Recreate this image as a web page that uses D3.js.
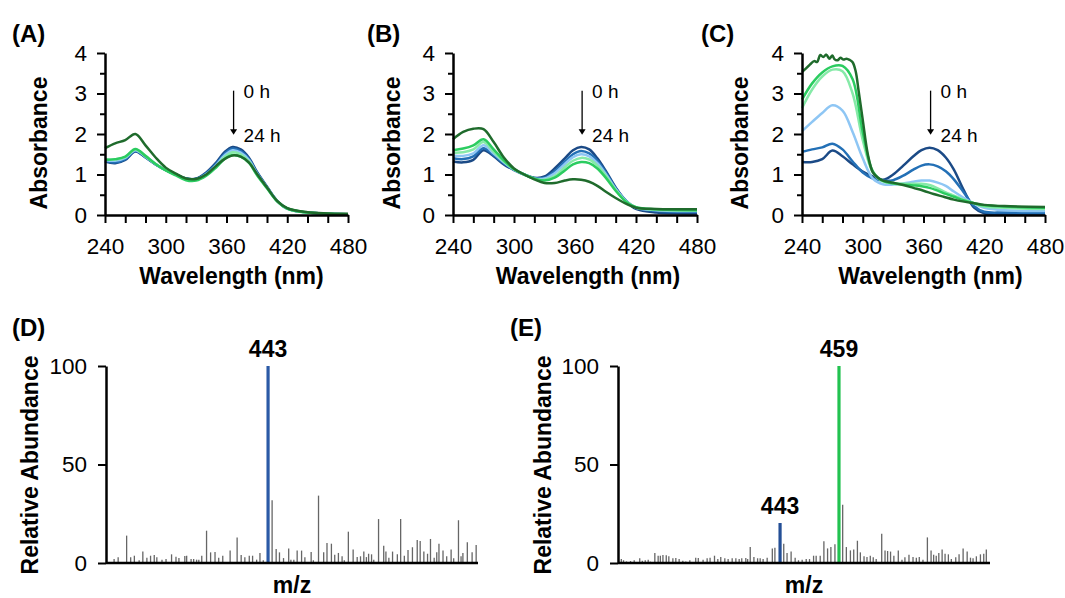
<!DOCTYPE html>
<html>
<head>
<meta charset="utf-8">
<script src="https://cdn.jsdelivr.net/npm/d3@7"></script>
<style>
  body { margin: 0; background: white; }
  text { font-family: "Liberation Sans", Arial, sans-serif; }
</style>
</head>
<body>
<script>
// wavelength grid (nm) shared by the UV-vis traces
const wl = [240,250,260,270,280,290,300,310,320,330,340,350,358,366,374,382,390,400,410,420,440,480];

// panel A, 0 h -> 24 h
const a0 = [1.32,1.28,1.36,1.57,1.42,1.25,1.11,1.00,0.90,0.90,1.05,1.30,1.55,1.68,1.62,1.42,1.07,0.70,0.35,0.16,0.06,0.02];
const a1 = [1.34,1.30,1.38,1.58,1.43,1.25,1.11,1.00,0.90,0.89,1.03,1.27,1.51,1.64,1.58,1.39,1.05,0.69,0.35,0.16,0.06,0.02];
const a2 = [1.36,1.34,1.41,1.60,1.44,1.26,1.11,1.00,0.89,0.88,1.01,1.24,1.47,1.60,1.54,1.36,1.03,0.68,0.35,0.16,0.06,0.02];
const a3 = [1.38,1.37,1.43,1.62,1.45,1.26,1.11,0.99,0.88,0.87,0.99,1.21,1.43,1.55,1.50,1.33,1.01,0.67,0.34,0.16,0.06,0.02];
const a4 = [1.36,1.38,1.44,1.63,1.46,1.26,1.10,0.98,0.86,0.85,0.97,1.18,1.38,1.48,1.44,1.29,0.99,0.66,0.34,0.16,0.06,0.02];
const a5 = [1.65,1.77,1.85,2.00,1.72,1.42,1.17,1.02,0.90,0.89,1.00,1.22,1.38,1.47,1.44,1.30,1.02,0.68,0.35,0.17,0.07,0.03];

// panel B
const b0 = [1.32,1.30,1.36,1.60,1.45,1.25,1.11,1.00,0.92,0.95,1.15,1.40,1.60,1.68,1.62,1.40,1.10,0.68,0.35,0.15,0.06,0.04];
const b1 = [1.40,1.38,1.45,1.65,1.48,1.28,1.12,1.00,0.91,0.92,1.08,1.32,1.50,1.58,1.52,1.34,1.06,0.66,0.36,0.18,0.10,0.08];
const b2 = [1.47,1.46,1.52,1.72,1.52,1.30,1.12,1.00,0.90,0.90,1.03,1.26,1.43,1.50,1.45,1.28,1.02,0.64,0.35,0.18,0.12,0.10];
const b3 = [1.54,1.55,1.62,1.80,1.56,1.32,1.13,1.00,0.89,0.87,0.96,1.18,1.34,1.41,1.37,1.22,0.98,0.62,0.34,0.19,0.13,0.11];
const b4 = [1.60,1.64,1.72,1.87,1.62,1.35,1.13,1.00,0.90,0.85,0.92,1.10,1.25,1.31,1.28,1.15,0.93,0.60,0.33,0.19,0.14,0.12];
const b5 = [1.87,2.05,2.13,2.12,1.80,1.42,1.15,1.00,0.88,0.79,0.79,0.85,0.88,0.87,0.82,0.72,0.58,0.42,0.28,0.18,0.15,0.14];

// panel C
const c0 = [1.31,1.31,1.38,1.59,1.45,1.25,1.07,0.95,0.87,1.00,1.22,1.45,1.60,1.66,1.60,1.42,1.12,0.60,0.18,0.04,0.02,0.02];
const c1 = [1.56,1.62,1.67,1.76,1.62,1.32,1.05,0.90,0.85,0.86,0.97,1.12,1.22,1.25,1.20,1.08,0.88,0.55,0.22,0.08,0.06,0.05];
const c2 = [2.07,2.30,2.52,2.71,2.58,2.05,1.40,0.90,0.76,0.75,0.78,0.82,0.85,0.85,0.80,0.72,0.58,0.42,0.28,0.18,0.12,0.10];
const c3 = [2.64,3.10,3.42,3.59,3.55,3.00,1.85,1.05,0.83,0.79,0.77,0.77,0.77,0.74,0.66,0.56,0.48,0.38,0.29,0.21,0.18,0.15];
const c4 = [2.85,3.25,3.52,3.67,3.68,3.35,2.05,1.08,0.84,0.78,0.75,0.73,0.71,0.67,0.60,0.52,0.45,0.36,0.29,0.24,0.21,0.18];
// the 24 h trace in C is saturated and noisy, read on a finer grid
const c5wl = [240,244,248,252,255,258,261,264,267,270,272,275,278,281,284,287,290,293,296,300,305,310,315,320,330,340,350,360,370,380,390,400,410,420,440,480];
const c5 = [3.53,3.62,3.72,3.80,3.78,3.95,3.90,3.96,3.86,3.94,3.85,3.82,3.88,3.84,3.86,3.83,3.77,3.55,3.05,2.35,1.50,1.05,0.92,0.85,0.80,0.74,0.67,0.60,0.52,0.45,0.38,0.33,0.29,0.25,0.22,0.20];

const timeColors = ['#1b4a86','#2370b6','#8ec6f4','#86eaa8','#2bcc60','#1f6b2c'];

// mass spectra: m/z and relative abundance of minor peaks
const dMz = [401.2,402.3,404.6,405.7,406.7,408.0,409.0,410.1,411.1,412.1,412.8,414.2,415.3,416.8,418.0,418.8,420.4,420.9,422.1,422.8,423.6,424.2,425.0,426.3,427.4,428.6,429.6,430.7,432.7,434.6,435.7,436.7,437.9,438.8,439.9,440.8,441.7,
  444.1,445.2,446.1,447.2,448.6,449.2,450.0,450.9,452.1,453.0,454.7,455.3,456.7,458.1,459.0,460.2,461.1,462.1,463.1,463.7,464.8,466.1,467.2,468.1,469.0,469.7,470.3,471.1,471.7,473.0,474.4,475.0,475.8,476.8,478.1,479.0,480.0,481.0,482.2,483.5,484.3,485.3,486.3,487.1,488.1,488.8,489.4,490.5,491.5,492.7,493.4,494.7,495.4,495.9,497.1,498.4,499.5];
const dAb = [2.0,2.9,13.9,2.9,3.7,1.4,5.8,2.7,3.7,4.1,2.9,1.7,2.0,4.4,3.2,2.5,3.6,3.7,2.0,2.0,1.7,1.7,3.7,16.4,5.4,5.6,2.7,3.7,6.4,13.0,4.1,2.9,3.7,3.7,1.7,5.1,1.4,
  31.8,7.1,5.4,2.5,7.3,1.7,1.7,6.3,6.3,2.9,5.6,1.4,34.2,5.4,10.2,9.8,4.2,5.1,3.4,1.4,15.9,6.8,3.0,3.4,5.9,3.0,4.7,4.4,1.7,22.3,8.8,5.8,2.7,5.8,4.4,22.3,3.7,6.6,8.0,11.7,11.2,5.8,4.7,12.2,2.7,5.4,9.8,6.4,3.4,6.8,2.4,21.7,3.4,5.1,10.5,5.4,9.1];
const eMz = [399.9,400.5,401.3,402.4,403.4,404.9,405.6,406.4,407.2,407.8,409.0,409.9,410.5,411.2,412.1,412.8,413.9,414.7,415.6,416.6,417.4,418.5,420.1,420.8,422.1,423.2,424.0,425.2,426.1,426.9,428.0,428.9,430.0,431.0,431.9,432.6,433.7,434.2,434.9,435.9,436.9,437.6,438.4,439.5,440.9,441.6,
  444.0,444.9,446.0,447.1,448.0,449.0,450.1,451.0,452.1,452.8,453.9,454.9,455.9,456.8,457.9,
  460.0,461.0,462.1,463.0,464.0,464.8,465.8,466.6,467.5,468.3,469.1,470.6,471.5,472.2,473.0,473.9,475.1,476.1,476.9,478.0,479.1,480.0,480.8,481.8,483.0,484.0,484.7,485.4,486.1,487.0,487.8,488.7,489.5,490.7,491.6,492.7,493.8,494.7,495.4,496.3,497.4,498.3,499.0];
const eAb = [2.0,1.4,0.8,1.0,1.4,2.4,1.2,1.4,1.7,0.7,5.1,3.7,3.7,4.1,3.9,3.4,2.4,2.5,2.0,1.2,0.8,1.4,2.7,2.5,1.7,2.4,2.7,3.7,2.0,3.0,2.4,2.0,2.4,2.4,2.0,2.4,2.5,2.0,8.1,3.0,2.4,2.4,2.0,2.7,7.4,7.8,
  9.8,5.1,5.8,2.7,1.4,1.7,2.0,2.0,3.7,3.7,3.7,11.0,7.4,8.1,9.5,
  29.6,8.1,6.4,6.8,11.3,5.4,3.4,3.0,3.7,2.9,2.0,14.9,6.4,6.1,5.8,3.7,6.4,1.7,2.9,4.2,3.0,2.7,3.0,1.7,13.0,6.4,4.2,3.7,5.1,6.8,4.7,4.4,2.0,2.9,4.4,7.4,5.9,2.7,2.4,3.4,4.4,4.7,6.8];
// labelled major peaks
const dMajor = [{mz: 443, ab: 100, color: '#2b5aa6'}];
const eMajor = [{mz: 443, ab: 20.3, color: '#244f96'}, {mz: 459, ab: 100, color: '#22c250'}];

const width = 1065, height = 598;
const svg = d3.select('body').append('svg')
  .attr('width', width)
  .attr('height', height);
svg.append('rect').attr('width', width).attr('height', height).attr('fill', 'white');

function styleAxis(g) {
  g.select('.domain').attr('stroke', '#000').attr('stroke-width', 2.5);
  g.selectAll('.tick line').attr('stroke', '#000').attr('stroke-width', 2);
  g.selectAll('.tick text').attr('font-size', 22.5).attr('fill', '#000')
    .attr('font-family', '"Liberation Sans", Arial, sans-serif');
}

// ---- UV-vis panels
const uvTop = 53, uvBottom = 215;
const uvPanels = [
  {label: '(A)', lx: 12, left: 105, right: 348, titleX: 39, xOff: 5, series: [a0,a1,a2,a3,a4,a5]},
  {label: '(B)', lx: 367, left: 453, right: 697, titleX: 392, xOff: 13, series: [b0,b1,b2,b3,b4,b5]},
  {label: '(C)', lx: 701, left: 802, right: 1045, titleX: 740, xOff: 7, series: [c0,c1,c2,c3,c4,c5]}
];

uvPanels.forEach((p, pi) => {
  const x = d3.scaleLinear().domain([240, 480]).range([p.left, p.right]);
  const y = d3.scaleLinear().domain([0, 4]).range([uvBottom, uvTop]);
  const g = svg.append('g');

  const line = d3.line()
    .x(d => x(d[0]))
    .y(d => y(d[1]))
    .curve(d3.curveCatmullRom.alpha(0.5));

  p.series.forEach((s, i) => {
    const xs = (pi === 2 && i === 5) ? c5wl : wl;
    g.append('path')
      .datum(d3.zip(xs, s))
      .attr('fill', 'none')
      .attr('stroke', timeColors[i])
      .attr('stroke-width', 2.5)
      .attr('stroke-linejoin', 'round')
      .attr('d', line);
  });

  // minor y ticks
  g.append('g')
    .attr('transform', `translate(${p.left},0)`)
    .call(d3.axisLeft(y).tickValues([0.5,1.5,2.5,3.5]).tickSize(5).tickFormat(''))
    .call(a => { a.select('.domain').remove(); styleAxis(a); });

  g.append('g')
    .attr('transform', `translate(${p.left},0)`)
    .call(d3.axisLeft(y).tickValues([0,1,2,3,4]).tickSize(8).tickPadding(10).tickSizeOuter(0)
      .tickFormat(d3.format('d')))
    .call(styleAxis);

  g.append('g')
    .attr('transform', `translate(0,${uvBottom})`)
    .call(d3.axisBottom(x).tickValues(d3.range(240, 481, 20)).tickSize(8).tickPadding(15).tickSizeOuter(0)
      .tickFormat(d => d % 60 === 0 ? d : ''))
    .call(styleAxis);

  // time arrow
  const ax = x(367);
  g.append('line')
    .attr('x1', ax).attr('x2', ax)
    .attr('y1', y(3.07)).attr('y2', y(2.05))
    .attr('stroke', '#000').attr('stroke-width', 1.3);
  g.append('path')
    .attr('d', `M${ax - 3.5},${y(2.12)} L${ax + 3.5},${y(2.12)} L${ax},${y(1.98)} Z`)
    .attr('fill', '#000');
  g.append('text').attr('x', ax + 10).attr('y', y(3.06)).attr('dy', '0.35em')
    .attr('font-size', 19).text('0 h');
  g.append('text').attr('x', ax + 10).attr('y', y(1.97)).attr('dy', '0.35em')
    .attr('font-size', 19).text('24 h');

  g.append('text')
    .attr('x', (p.left + p.right) / 2 + p.xOff).attr('y', 284)
    .attr('text-anchor', 'middle').attr('font-size', 23).attr('font-weight', 'bold')
    .text('Wavelength (nm)');
  g.append('text')
    .attr('transform', `translate(${p.titleX},143) rotate(-90)`)
    .attr('dy', '0.35em')
    .attr('text-anchor', 'middle').attr('font-size', 23).attr('font-weight', 'bold')
    .text('Absorbance');
  g.append('text').attr('x', p.lx).attr('y', 42)
    .attr('font-size', 24).attr('font-weight', 'bold').text(p.label);
});

// ---- mass spectra panels
const msTop = 366, msBottom = 563;
const msPanels = [
  {label: '(D)', lx: 12, left: 106, right: 478, titleX: 30, mz: dMz, ab: dAb, major: dMajor},
  {label: '(E)', lx: 510, left: 618, right: 990, titleX: 543, mz: eMz, ab: eAb, major: eMajor}
];

msPanels.forEach(p => {
  const x = d3.scaleLinear().domain([399, 500]).range([p.left, p.right]);
  const y = d3.scaleLinear().domain([0, 100]).range([msBottom, msTop]);
  const g = svg.append('g');

  g.append('g')
    .selectAll('line')
    .data(d3.zip(p.mz, p.ab))
    .join('line')
    .attr('x1', d => x(d[0])).attr('x2', d => x(d[0]))
    .attr('y1', y(0)).attr('y2', d => y(d[1]))
    .attr('stroke', '#666')
    .attr('stroke-width', 1.3);

  g.append('g')
    .selectAll('line')
    .data(p.major)
    .join('line')
    .attr('x1', d => x(d.mz)).attr('x2', d => x(d.mz))
    .attr('y1', y(0)).attr('y2', d => y(d.ab))
    .attr('stroke', d => d.color)
    .attr('stroke-width', 3.2);

  g.append('g')
    .selectAll('text')
    .data(p.major)
    .join('text')
    .attr('x', d => x(d.mz)).attr('y', d => y(d.ab) - 9)
    .attr('text-anchor', 'middle').attr('font-size', 23).attr('font-weight', 'bold')
    .text(d => d.mz);

  g.append('line')
    .attr('x1', p.left).attr('x2', p.right)
    .attr('y1', y(0)).attr('y2', y(0))
    .attr('stroke', '#000').attr('stroke-width', 2.5);

  g.append('g')
    .attr('transform', `translate(${p.left},0)`)
    .call(d3.axisLeft(y).tickValues([0, 50, 100]).tickSize(8).tickPadding(11).tickSizeOuter(0))
    .call(styleAxis);

  g.append('text')
    .attr('x', (p.left + p.right) / 2).attr('y', 593)
    .attr('text-anchor', 'middle').attr('font-size', 23).attr('font-weight', 'bold')
    .text('m/z');
  g.append('text')
    .attr('transform', `translate(${p.titleX},465) rotate(-90)`)
    .attr('dy', '0.35em')
    .attr('text-anchor', 'middle').attr('font-size', 23).attr('font-weight', 'bold')
    .text('Relative Abundance');
  g.append('text').attr('x', p.lx).attr('y', 336)
    .attr('font-size', 24).attr('font-weight', 'bold').text(p.label);
});
</script>
</body>
</html>
